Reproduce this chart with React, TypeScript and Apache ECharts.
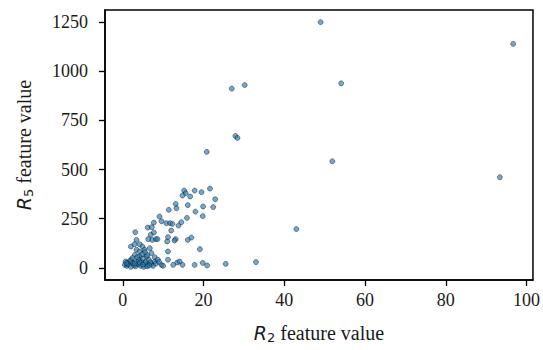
import React, { useEffect, useRef } from "react";
import * as echarts from "echarts";

const r2Values: number[] = [
  49, 96.7, 27.0, 30.2, 54.1, 27.9, 28.4, 20.8, 51.9, 93.4,
  19.5, 21.6, 22.9, 19.9, 22.4, 19.8, 43.0, 19.1, 19.8, 20.9, 25.5, 33.0,
  15.2, 17.8, 15.6, 14.8, 16.7, 13.1, 16.1, 11.4, 13.3, 18.0, 9.1, 9.6, 7.7, 10.8, 11.7, 12.3, 14.5, 13.8, 15.9,
  6.2, 7.2, 3.1, 12.0, 7.7, 6.9, 6.3, 7.3, 8.2, 8.6, 11.2, 11.0, 13.1, 12.8, 16.1, 17.0,
  3.4, 2.9, 2.0, 4.2, 4.9, 3.4, 4.2, 5.4, 6.7, 7.1, 11.2, 3.0, 4.2, 5.9, 7.9,
  0.7, 1.3, 2.1, 2.5, 3.4, 4.6, 5.4, 6.3, 7.1, 7.9, 8.7, 9.6, 10.0, 11.2, 12.5, 13.5, 14.1, 14.8, 17.8,
  0.5, 1.0, 1.5, 2.0, 2.8, 3.2, 3.8, 4.0, 4.4, 5.0, 5.2, 5.7, 6.0, 6.5, 6.8, 7.5, 8.2, 9.0,
  1.8, 2.4, 3.6, 4.8, 5.5, 6.1, 1.2, 0.9, 3.0, 4.2, 5.0, 6.6,
];

const r5Values: number[] = [
  1250, 1140, 912, 930, 939, 671, 661, 590, 542, 461,
  385, 403, 349, 312, 309, 263, 197, 95, 25, 12, 20, 29,
  393, 393, 380, 368, 363, 325, 319, 295, 303, 286, 261, 237, 230, 227, 227, 224, 232, 215, 254,
  205, 207, 181, 190, 180, 168, 146, 142, 146, 146, 156, 134, 146, 139, 142, 154,
  142, 120, 108, 120, 108, 92, 83, 92, 100, 75, 83, 66, 57, 57, 54,
  32, 27, 41, 24, 32, 32, 24, 15, 20, 32, 41, 15, 10, 41, 15, 27, 32, 15, 15,
  15, 10, 20, 5, 12, 8, 18, 40, 10, 48, 5, 30, 8, 40, 28, 10, 22, 30,
  35, 50, 55, 70, 80, 64, 18, 25, 22, 26, 16, 12,
];

const xTicks = [0, 20, 40, 60, 80, 100];
const yTicks = [0, 250, 500, 750, 1000, 1250];

const SERIF = "Liberation Serif";

export default function App() {
  const ref = useRef<HTMLDivElement>(null);
  useEffect(() => {
    if (!ref.current) return;
    document.body.style.margin = "0";
    const chart = echarts.init(ref.current, undefined, { renderer: "svg" });
    const data = r2Values.map((x, i) => [x, r5Values[i]]);
    const rich = {
      r: { fontFamily: "DejaVu Sans", fontStyle: "italic", fontSize: 19 },
      s: { fontFamily: "DejaVu Sans", fontSize: 13, padding: [9, 0, 0, 0] },
      t: { fontFamily: SERIF, fontSize: 20 },
    };
    chart.setOption({
      animation: false,
      grid: {
        left: 105,
        top: 10,
        width: 429,
        height: 270,
        show: true,
        borderColor: "#000",
        borderWidth: 1.5,
        backgroundColor: "transparent",
      },
      xAxis: {
        type: "value",
        min: -4.4,
        max: 101.6,
        splitLine: { show: false },
        axisLine: { show: true, onZero: false, lineStyle: { color: "#000", width: 1.5 } },
        axisTick: { show: true, length: 6, lineStyle: { color: "#000", width: 1.3 }, customValues: xTicks },
        axisLabel: {
          fontFamily: SERIF,
          fontSize: 18,
          color: "#1a1a1a",
          margin: 11,
          customValues: xTicks,
          formatter: (v: number) => String(v),
        },
        name: "{r|R}{s|2}{t| feature value}",
        nameLocation: "middle",
        nameGap: 42,
        nameTextStyle: { fontFamily: SERIF, fontSize: 20, color: "#1a1a1a", rich },
      },
      yAxis: {
        type: "value",
        min: -62,
        max: 1312,
        splitLine: { show: false },
        axisLine: { show: true, onZero: false, lineStyle: { color: "#000", width: 1.5 } },
        axisTick: { show: true, length: 6, lineStyle: { color: "#000", width: 1.3 }, customValues: yTicks },
        axisLabel: {
          fontFamily: SERIF,
          fontSize: 18,
          color: "#1a1a1a",
          margin: 17,
          customValues: yTicks,
          formatter: (v: number) => String(v),
        },
        name: "{r|R}{s|5}{t| feature value}",
        nameLocation: "middle",
        nameGap: 70,
        nameRotate: 90,
        nameTextStyle: { fontFamily: SERIF, fontSize: 20, color: "#1a1a1a", rich },
      },
      series: [
        {
          type: "scatter",
          data,
          symbol: "circle",
          symbolSize: 5,
          itemStyle: {
            color: "rgba(31,119,180,0.8)",
            borderColor: "rgba(15,15,15,0.9)",
            borderWidth: 0.6,
          },
        },
      ],
    });
    return () => chart.dispose();
  }, []);
  return <div ref={ref} style={{ width: 543, height: 350 }} />;
}
